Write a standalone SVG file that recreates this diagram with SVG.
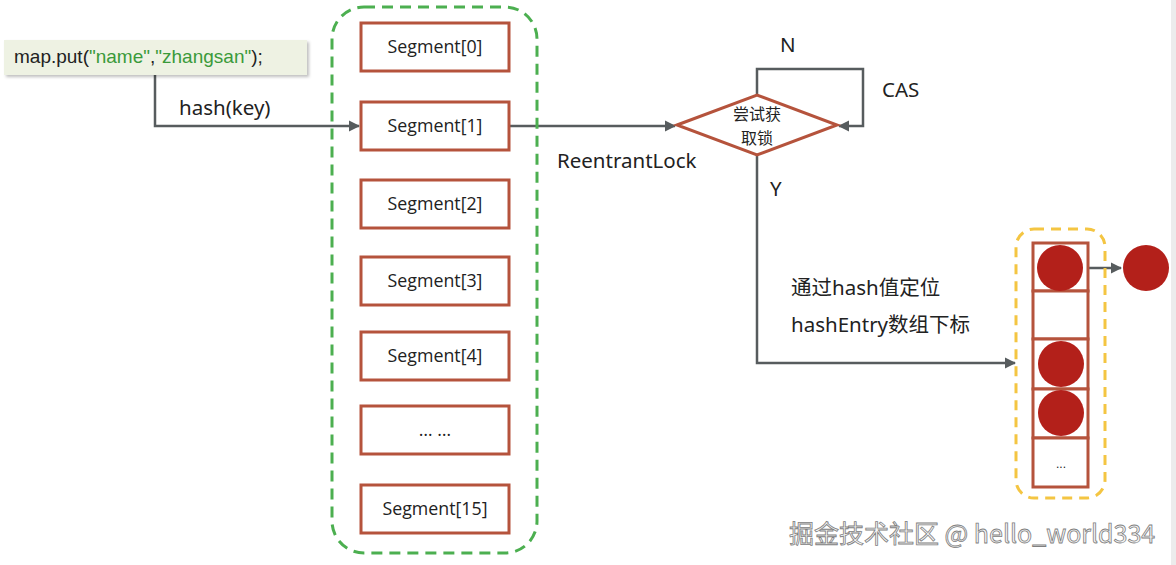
<svg xmlns="http://www.w3.org/2000/svg" width="1176" height="565" viewBox="0 0 1176 565">
<style>
.seg{fill:#fff;stroke:#b5533c;stroke-width:3}
.st{font-family:"Open Sans","Noto Sans",sans-serif;font-size:17.8px;fill:#222;text-anchor:middle}
.lbl{font-family:"Noto Sans","Noto Sans CJK SC",sans-serif;font-size:20.5px;fill:#222}
.conn{fill:none;stroke:#575c5e;stroke-width:2.5}
.cell{fill:#fff;stroke:#b5533c;stroke-width:3}
.ball{fill:#b3201a}
.dt{font-family:"Noto Sans CJK SC",sans-serif;font-size:16px;fill:#222;text-anchor:middle}
</style>
<defs>
<marker id="ah" viewBox="0 0 10 10" refX="9" refY="5" markerWidth="4.5" markerHeight="4.5" orient="auto" markerUnits="strokeWidth">
<path d="M0,0 L10,5 L0,10 z" fill="#575c5e"/>
</marker>
<filter id="sh" x="-5%" y="-20%" width="110%" height="150%">
<feDropShadow dx="2" dy="2" stdDeviation="1.5" flood-color="#000" flood-opacity="0.25"/>
</filter>
</defs>
<rect x="0" y="0" width="1176" height="565" fill="#fff"/>
<rect x="1171" y="0" width="5" height="565" fill="#ececec"/>

<g id="connectors">
<polyline class="conn" points="155,75 155,126 359,126" marker-end="url(#ah)"/>
<line class="conn" x1="509" y1="126" x2="675" y2="126" marker-end="url(#ah)"/>
<polyline class="conn" points="757,95 757,69 863,69 863,126 839,126" marker-end="url(#ah)"/>
<polyline class="conn" points="757,155 757,363 1015,363" marker-end="url(#ah)"/>
<line class="conn" x1="1083" y1="268" x2="1121" y2="268" marker-end="url(#ah)"/>
</g>

<g id="mapput">
<rect x="4" y="40" width="303" height="35" fill="#eef2e3" filter="url(#sh)"/>
<text x="14" y="63" font-family="'Liberation Sans',Arial,sans-serif" font-size="19" fill="#222">map.put(<tspan fill="#3a9a3a">"name"</tspan>,<tspan fill="#3a9a3a">"zhangsan"</tspan>);</text>
</g>

<g id="labels">
<text class="lbl" x="179" y="115">hash(key)</text>
<text class="lbl" x="557" y="168">ReentrantLock</text>
<text class="lbl" x="780" y="52">N</text>
<text class="lbl" x="882" y="97" font-size="22">CAS</text>
<text class="lbl" x="770" y="196">Y</text>
<text class="lbl" x="791" y="295" font-size="19.6">通过hash值定位</text>
<text class="lbl" x="791" y="332" font-size="19.6">hashEntry数组下标</text>
</g>

<g id="segments">
<rect x="332" y="7" width="205" height="546" rx="32" fill="none" stroke="#4caf50" stroke-width="3" stroke-dasharray="11,7"/>
<g id="seg0"><rect class="seg" x="361" y="23" width="148" height="48"/><text class="st" x="435" y="53">Segment[0]</text></g>
<g id="seg1"><rect class="seg" x="361" y="102" width="148" height="48"/><text class="st" x="435" y="132">Segment[1]</text></g>
<g id="seg2"><rect class="seg" x="361" y="180" width="148" height="48"/><text class="st" x="435" y="210">Segment[2]</text></g>
<g id="seg3"><rect class="seg" x="361" y="257" width="148" height="48"/><text class="st" x="435" y="287">Segment[3]</text></g>
<g id="seg4"><rect class="seg" x="361" y="332" width="148" height="48"/><text class="st" x="435" y="362">Segment[4]</text></g>
<g id="segdots"><rect class="seg" x="361" y="406" width="148" height="48"/><text class="st" x="435" y="436">… …</text></g>
<g id="seg15"><rect class="seg" x="361" y="485" width="148" height="48"/><text class="st" x="435" y="515">Segment[15]</text></g>
</g>

<g id="decision">
<polygon points="677,125 757,95 837,125 757,155" fill="#fff" stroke="#b5533c" stroke-width="3"/>
<text class="dt" x="757" y="120">尝试获</text>
<text class="dt" x="757" y="144">取锁</text>
</g>

<g id="hashentry">
<rect x="1016" y="229" width="89" height="269" rx="18" fill="none" stroke="#f4c542" stroke-width="3" stroke-dasharray="10,7"/>
<rect class="cell" x="1033" y="243" width="55" height="48"/>
<rect class="cell" x="1033" y="291" width="55" height="48"/>
<rect class="cell" x="1033" y="339" width="55" height="50"/>
<rect class="cell" x="1033" y="389" width="55" height="49"/>
<rect class="cell" x="1033" y="438" width="55" height="49"/>
<circle class="ball" cx="1060" cy="268" r="23"/>
<circle class="ball" cx="1061" cy="364" r="23"/>
<circle class="ball" cx="1061" cy="413" r="23"/>
<text x="1061" y="468" font-family="'Liberation Sans',sans-serif" font-size="12" fill="#222" text-anchor="middle">...</text>
</g>

<g id="nextnode">
<circle class="ball" cx="1146" cy="268" r="23"/>
</g>

<g id="watermark">
<text x="789" y="543" font-family="'Noto Sans CJK SC','Noto Sans',sans-serif" font-size="25" fill="#f6f6f6" stroke="#808080" stroke-width="0.8">掘金技术社区 @ hello_world334</text>
</g>
</svg>
